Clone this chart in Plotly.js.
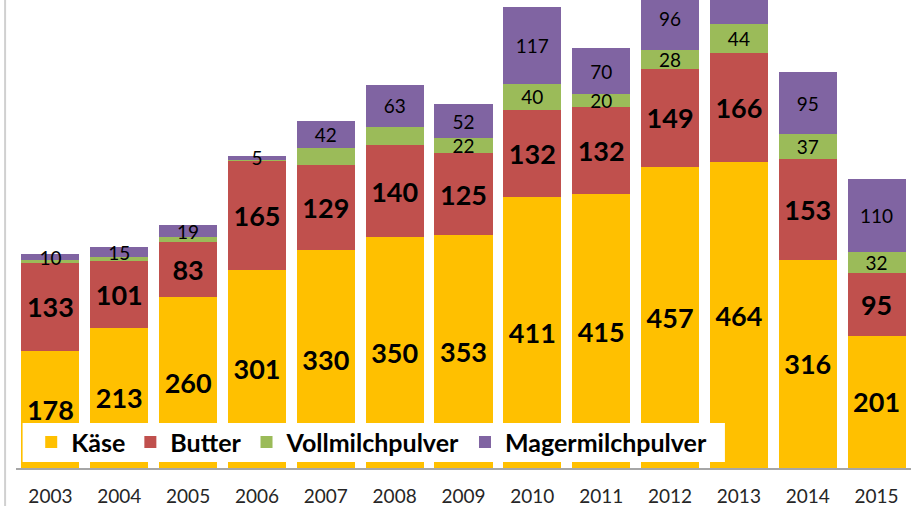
<!DOCTYPE html>
<html>
<head>
<meta charset="utf-8">
<script src="https://cdn.plot.ly/plotly-3.0.1.min.js"></script>
<style>
  html, body { margin: 0; padding: 0; background: #ffffff; }
  #chart { width: 912px; height: 506px; }
</style>
</head>
<body>
<div id="chart"></div>
<script>
// ---- data ----
const years = ['2003','2004','2005','2006','2007','2008','2009','2010','2011','2012','2013','2014','2015'];
const kaese      = [178, 213, 260, 301, 330, 350, 353, 411, 415, 457, 464, 316, 201];
const butter     = [133, 101,  83, 165, 129, 140, 125, 132, 132, 149, 166, 153,  95];
const vollmilch  = [  4,   6,   7,   2,  26,  28,  22,  40,  20,  28,  44,  37,  32];
const magermilch = [ 10,  15,  19,   5,  42,  63,  52, 117,  70,  96, 120,  95, 110];
// which values carry a visible label in the original
const vollLabelled  = [false,false,false,false,false,false,true,true,true,true,true,true,true];
const magerLabelled = [true,true,true,true,true,true,true,true,true,true,false,true,true];

const seriesNames = ['Käse', 'Butter', 'Vollmilchpulver', 'Magermilchpulver'];
const colors = ['#FFC000', '#C0504D', '#9BBB59', '#8064A2'];

const FONT = 'Lato, "Open Sans", sans-serif';
const bigFont = {family: FONT, size: 27, color: '#000000', weight: 'bold'};
const smallFont = {family: FONT, size: 19, color: '#000000', weight: 'normal'};

function barTrace(name, values, color, texts, font) {
  return {
    type: 'bar', name: name, x: years, y: values,
    marker: {color: color, line: {width: 0}},
    text: texts, textposition: 'inside', insidetextanchor: 'middle',
    textangle: 0, constraintext: 'none', textfont: font, cliponaxis: true,
    hoverinfo: 'x+y+name'
  };
}

const traces = [
  barTrace(seriesNames[0], kaese, colors[0], kaese.map(String), bigFont),
  barTrace(seriesNames[1], butter, colors[1], butter.map(String), bigFont),
  barTrace(seriesNames[2], vollmilch, colors[2], vollmilch.map((v, i) => vollLabelled[i] ? String(v) : ''), smallFont),
  barTrace(seriesNames[3], magermilch, colors[3], magermilch.map((v, i) => magerLabelled[i] ? String(v) : ''), smallFont)
];

const layout = {
  width: 912, height: 506,
  margin: {l: 16.4, r: 1, t: 0, b: 38, pad: 0},
  paper_bgcolor: '#ffffff', plot_bgcolor: '#ffffff',
  barmode: 'stack', bargap: 0.157,
  showlegend: true,
  legend: {
    orientation: 'h', traceorder: 'normal',
    x: 0.017, xanchor: 'left', y: 0.104, yanchor: 'top',
    bgcolor: 'rgba(0,0,0,0)', borderwidth: 0,
    font: {family: FONT, size: 25, color: '#000000', weight: 'bold'}
  },
  xaxis: {
    type: 'category', showgrid: false, zeroline: false,
    showline: true, linecolor: '#A6A6A6', linewidth: 1.5,
    ticks: '', ticklabelstandoff: 11,
    tickfont: {family: FONT, size: 19, color: '#262626'},
    fixedrange: true
  },
  yaxis: {
    range: [0, 710], visible: false, showgrid: false, zeroline: false, fixedrange: true
  },
  shapes: [
    // legend backdrop
    {type: 'rect', xref: 'paper', yref: 'paper', layer: 'above',
     x0: (23 - 16.4) / 894.6, x1: (725 - 16.4) / 894.6,
     y0: (468 - 462) / 468, y1: (468 - 423) / 468,
     fillcolor: '#ffffff', line: {width: 0}},
    // faint left border line
    {type: 'line', xref: 'paper', yref: 'paper', layer: 'above',
     x0: (5.5 - 16.4) / 894.6, x1: (5.5 - 16.4) / 894.6,
     y0: -38 / 468, y1: 1,
     line: {color: '#D0D0D0', width: 2}}
  ]
};

Plotly.newPlot('chart', traces, layout, {displayModeBar: false, staticPlot: true});
</script>
</body>
</html>
